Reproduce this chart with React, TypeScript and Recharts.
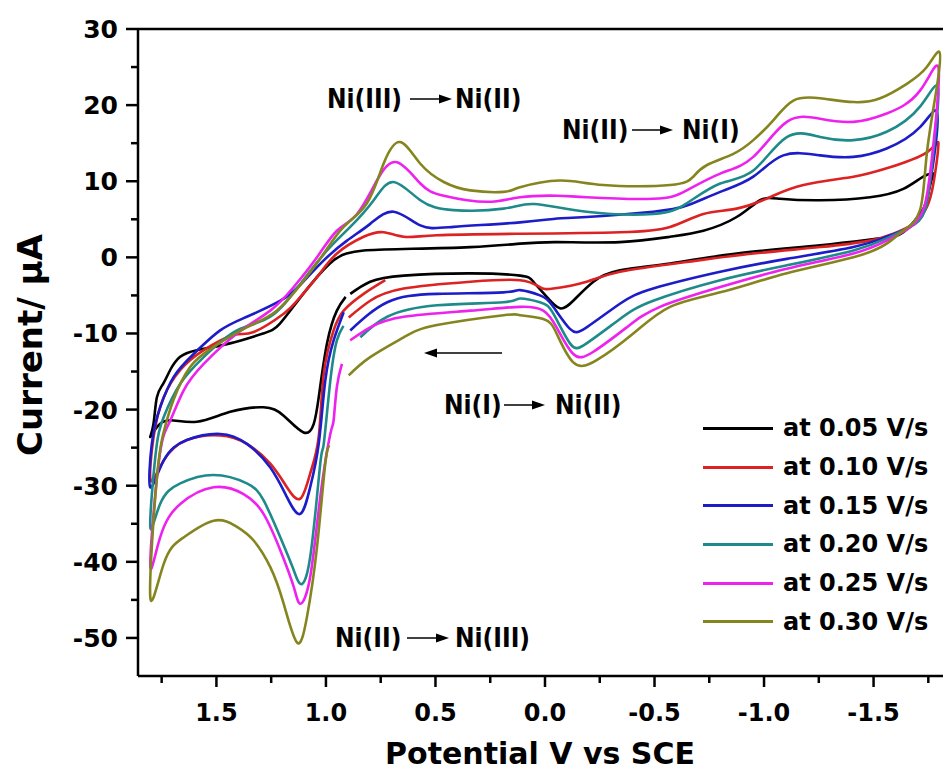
import { LineChart, Line, XAxis, YAxis, ReferenceLine, Legend, Label } from "recharts"

// scan-rate series, [potential V, current µA] in scan order
const scan005 = [
  [0.889, -4.8], [0.798, -3.2], [0.645, -2.4], [0.341, -2.1], [0.113, -2.4], [0.053, -3.2], [-0.008, -5.2],
  [-0.068, -6.7], [-0.129, -5.7], [-0.221, -3.2], [-0.342, -1.7], [-0.571, -0.8], [-0.875, 0.5], [-1.256, 1.6],
  [-1.53, 2.5], [-1.636, 3.3], [-1.712, 5.7], [-1.743, 7.5], [-1.765, 10.2], [-1.775, 11.0],
  [-1.727, 10.6], [-1.636, 9.0], [-1.484, 7.9], [-1.256, 7.5], [-1.073, 7.7], [-0.982, 7.5], [-0.875, 5.3],
  [-0.723, 3.5], [-0.571, 2.7], [-0.342, 2.0], [-0.055, 2.0], [0.114, 1.8], [0.341, 1.35], [0.645, 1.1],
  [0.828, 0.9], [0.906, 0.5], [0.982, -0.8], [1.104, -4.8], [1.21, -8.7], [1.286, -10.0], [1.438, -11.3],
  [1.59, -12.2], [1.667, -13.1], [1.711, -14.8], [1.743, -16.6], [1.772, -18.4], [1.788, -22.0], [1.802, -23.6],
  [1.772, -22.3], [1.711, -21.4], [1.589, -21.6], [1.437, -20.3], [1.285, -19.7], [1.193, -20.8], [1.102, -23.0],
  [1.056, -21.9], [1.033, -18.4], [0.995, -11.3], [0.95, -7.0], [0.91, -5.2],
]

const scan010 = [
  [0.896, -7.9], [0.798, -5.7], [0.645, -4.1], [0.341, -3.2], [0.114, -3.0], [0.023, -3.9], [-0.038, -4.1],
  [-0.19, -3.2], [-0.342, -1.9], [-0.647, -0.6], [-0.951, 0.5], [-1.256, 1.35], [-1.484, 2.2], [-1.59, 3.1],
  [-1.682, 4.4], [-1.743, 6.6], [-1.775, 10.0], [-1.796, 14.9],
  [-1.743, 13.8], [-1.56, 11.7], [-1.408, 10.6], [-1.18, 9.5], [-1.027, 7.9], [-0.875, 6.4], [-0.723, 5.7],
  [-0.571, 4.0], [-0.342, 3.3], [0.114, 3.1], [0.493, 2.9], [0.645, 2.7], [0.737, 3.3], [0.828, 2.7],
  [0.95, 0.5], [1.041, -2.6], [1.132, -5.7], [1.193, -7.4], [1.33, -9.8], [1.421, -10.2], [1.558, -12.2],
  [1.665, -14.8], [1.741, -18.4], [1.787, -23.6], [1.8, -29.3],
  [1.741, -26.7], [1.635, -24.0], [1.483, -23.4], [1.361, -24.5], [1.254, -27.1], [1.178, -30.2],
  [1.117, -31.7], [1.072, -28.4], [1.033, -23.6], [1.01, -15.3], [0.965, -9.6], [0.919, -7.0],
  [0.828, -4.8], [0.729, -3.0],
]

const scan015 = [
  [0.889, -9.6], [0.72, -5.9], [0.493, -4.8], [0.189, -4.6], [0.114, -4.3], [0.023, -5.0], [-0.038, -6.5],
  [-0.114, -9.4], [-0.19, -9.2], [-0.342, -6.1], [-0.494, -4.1], [-0.8, -1.9], [-1.104, -0.2], [-1.408, 1.35],
  [-1.56, 2.7], [-1.667, 4.0], [-1.727, 6.2], [-1.765, 11.0], [-1.791, 18.9],
  [-1.712, 17.1], [-1.56, 14.3], [-1.408, 13.2], [-1.256, 13.4], [-1.088, 13.4], [-0.951, 10.6], [-0.8, 8.6],
  [-0.647, 6.8], [-0.494, 6.0], [-0.19, 5.3], [-0.055, 5.1], [0.114, 4.6], [0.417, 4.0], [0.569, 4.2],
  [0.691, 6.0], [0.798, 4.4], [0.904, 2.2], [1.01, -0.4], [1.117, -3.6], [1.208, -5.7], [1.361, -7.8],
  [1.483, -9.6], [1.604, -12.7], [1.695, -15.7], [1.757, -19.7], [1.795, -24.5], [1.802, -30.2],
  [1.741, -26.7], [1.635, -24.0], [1.483, -23.2], [1.361, -24.5], [1.254, -27.6], [1.178, -31.5],
  [1.117, -33.7], [1.072, -30.2], [1.033, -24.5], [1.003, -16.2], [0.965, -10.9], [0.919, -7.2],
]

const scan020 = [
  [0.843, -10.5], [0.72, -7.8], [0.493, -6.3], [0.189, -5.9], [0.114, -5.4], [0.023, -5.9], [-0.038, -7.4],
  [-0.114, -11.3], [-0.19, -11.3], [-0.342, -8.1], [-0.494, -5.7], [-0.8, -3.0], [-1.104, -1.05], [-1.408, 0.9],
  [-1.56, 2.5], [-1.667, 4.0], [-1.735, 6.2], [-1.77, 13.0], [-1.795, 22.2],
  [-1.712, 19.8], [-1.56, 16.5], [-1.408, 15.4], [-1.256, 15.8], [-1.104, 15.8], [-0.951, 11.4], [-0.8, 9.7],
  [-0.647, 7.1], [-0.494, 5.7], [-0.19, 6.0], [0.05, 7.0], [0.189, 6.4], [0.417, 6.2], [0.569, 7.5],
  [0.691, 9.9], [0.782, 7.5], [0.889, 4.0], [0.995, 0.9], [1.117, -3.5], [1.254, -7.8], [1.406, -9.6],
  [1.558, -13.1], [1.665, -16.6], [1.741, -21.0], [1.779, -26.2], [1.802, -35.4],
  [1.757, -32.4], [1.665, -29.7], [1.513, -28.6], [1.361, -29.7], [1.285, -31.9], [1.208, -36.8],
  [1.147, -41.1], [1.117, -42.9], [1.072, -39.4], [1.026, -27.1], [1.01, -24.5], [0.98, -16.2],
  [0.95, -10.9], [0.92, -9.0],
]

const scan025 = [
  [0.889, -10.9], [0.798, -9.2], [0.645, -7.8], [0.341, -7.0], [0.114, -6.5], [0.008, -7.0], [-0.053, -9.2],
  [-0.129, -12.7], [-0.221, -12.4], [-0.373, -9.2], [-0.525, -6.5], [-0.8, -3.9], [-1.104, -1.5], [-1.408, 0.5],
  [-1.56, 2.2], [-1.66, 3.8], [-1.73, 6.5], [-1.77, 14.0], [-1.797, 24.8],
  [-1.712, 21.9], [-1.56, 18.9], [-1.408, 17.8], [-1.256, 18.2], [-1.104, 17.8], [-0.951, 13.2], [-0.8, 11.0],
  [-0.647, 8.8], [-0.494, 7.7], [-0.19, 7.9], [-0.055, 8.1], [0.114, 7.9], [0.265, 7.3], [0.462, 8.1],
  [0.569, 9.7], [0.676, 12.5], [0.767, 10.1], [0.858, 5.7], [0.95, 3.5], [1.041, 0.0], [1.147, -3.9],
  [1.254, -7.0], [1.406, -10.0], [1.558, -14.0], [1.65, -17.5], [1.718, -21.9], [1.764, -27.1], [1.802, -40.3],
  [1.757, -36.8], [1.665, -32.4], [1.513, -30.2], [1.376, -31.1], [1.285, -33.7], [1.208, -38.5],
  [1.147, -43.3], [1.117, -45.5], [1.072, -42.0], [1.026, -31.5], [0.98, -23.2], [0.965, -21.4],
  [0.95, -17.0], [0.927, -14.0],
]

const scan030 = [
  [0.896, -15.5], [0.798, -13.1], [0.645, -10.5], [0.493, -8.9], [0.189, -7.6], [0.114, -7.6], [0.008, -8.1],
  [-0.053, -10.0], [-0.129, -13.8], [-0.236, -13.5], [-0.403, -10.0], [-0.571, -6.5], [-0.8, -4.6],
  [-1.104, -2.1], [-1.408, 0.0], [-1.56, 1.8], [-1.636, 3.5], [-1.712, 6.2], [-1.743, 13.6], [-1.789, 22.4],
  [-1.8, 27.0],
  [-1.743, 25.0], [-1.652, 22.8], [-1.53, 20.9], [-1.408, 20.4], [-1.256, 20.9], [-1.134, 20.6], [-1.042, 18.0],
  [-0.951, 15.4], [-0.86, 13.6], [-0.738, 12.1], [-0.677, 10.6], [-0.571, 9.5], [-0.266, 9.5], [-0.068, 10.1],
  [0.114, 9.2], [0.189, 8.6], [0.341, 8.8], [0.462, 9.9], [0.569, 12.3], [0.661, 15.15], [0.737, 12.3],
  [0.813, 7.1], [0.919, 4.0], [1.01, 0.5], [1.1, -3.0], [1.225, -7.0], [1.362, -9.2], [1.515, -11.8],
  [1.62, -14.4], [1.697, -18.8], [1.743, -23.2], [1.775, -30.0], [1.802, -44.6],
  [1.741, -40.3], [1.65, -36.8], [1.513, -34.6], [1.406, -35.4], [1.33, -37.2], [1.254, -40.7], [1.193, -45.5],
  [1.132, -50.6], [1.087, -47.3], [1.041, -38.1], [1.003, -27.1], [0.982, -24.9],
]

const scanRates = ["at 0.05 V/s", "at 0.10 V/s", "at 0.15 V/s", "at 0.20 V/s", "at 0.25 V/s", "at 0.30 V/s"]
const scans = [scan005, scan010, scan015, scan020, scan025, scan030]
const colors = ["#000000", "#dc2222", "#1c1cc8", "#1f8a8a", "#ee22ee", "#85851f"]

const potentialTicks = [1.75, 1.5, 1.25, 1.0, 0.75, 0.5, 0.25, 0, -0.25, -0.5, -0.75, -1.0, -1.25, -1.5, -1.75]
const currentTicks = [-50, -45, -40, -35, -30, -25, -20, -15, -10, -5, 0, 5, 10, 15, 20, 25, 30]

const FONT = "'DejaVu Sans', 'Liberation Sans', Arial, sans-serif"
const NOTE_FONT = "'DejaVu Sans Condensed', 'DejaVu Sans', Arial, sans-serif"

function CurrentTick({ x, y, payload }: any) {
  const v = payload.value
  const major = v % 10 === 0
  return (
    <g>
      <line x1={x} x2={x - (major ? 12 : 7)} y1={y} y2={y} stroke="#000" strokeWidth={2.5} />
      {major && (
        <text x={x - 20} y={y} dy="0.36em" textAnchor="end" fontFamily={FONT} fontWeight="bold" fontSize={25} fill="#000">
          {v}
        </text>
      )}
    </g>
  )
}

function PotentialTick({ x, y, payload }: any) {
  const v = payload.value
  const major = Math.abs(v * 2 - Math.round(v * 2)) < 1e-6
  return (
    <g>
      <line x1={x} x2={x} y1={y} y2={y + (major ? 11 : 7)} stroke="#000" strokeWidth={2.5} />
      {major && (
        <text x={x} y={y + 36} dy="0.36em" textAnchor="middle" fontFamily={FONT} fontWeight="bold" fontSize={24} fill="#000">
          {v.toFixed(1)}
        </text>
      )}
    </g>
  )
}

function CurrentTitle() {
  return (
    <text x={30} y={345} transform="rotate(-90 30 345)" textAnchor="middle" dy="0.36em"
      fontFamily={FONT} fontWeight="bold" fontSize={34} fill="#000">
      Current/ μA
    </text>
  )
}

function PotentialTitle() {
  return (
    <text x={540} y={753} textAnchor="middle" dy="0.36em"
      fontFamily={FONT} fontWeight="bold" fontSize={30} fill="#000">
      Potential V vs SCE
    </text>
  )
}

function renderLegend(props: any) {
  const { payload } = props
  return (
    <div>
      {payload.map((entry: any) => (
        <div key={entry.value} style={{ display: "flex", alignItems: "center", height: 38.7 }}>
          <span style={{ width: 70, height: 3, background: entry.color, display: "inline-block" }} />
          <span style={{ marginLeft: 10, fontFamily: FONT, fontWeight: "bold", fontSize: 24, color: "#000" }}>
            {entry.value}
          </span>
        </div>
      ))}
    </div>
  )
}

function Arrow({ x1, x2, y, left = false }: { x1: number; x2: number; y: number; left?: boolean }) {
  const w = x2 - x1
  return (
    <svg width={w} height={12} style={{ position: "absolute", left: x1, top: y - 6 }}>
      {left ? (
        <>
          <line x1={10} x2={w} y1={6} y2={6} stroke="#000" strokeWidth={1.5} />
          <polygon points={`0,6 13,1.5 13,10.5`} fill="#000" />
        </>
      ) : (
        <>
          <line x1={0} x2={w - 10} y1={6} y2={6} stroke="#000" strokeWidth={1.5} />
          <polygon points={`${w},6 ${w - 13},1.5 ${w - 13},10.5`} fill="#000" />
        </>
      )}
    </svg>
  )
}

function Note({ y, x1, t1, a1, a2, x2, t2 }: any) {
  const text = (x: number, t: string) => (
    <div style={{ position: "absolute", left: x, top: y, transform: "translateY(-50%)", lineHeight: 1,
      fontFamily: NOTE_FONT, fontWeight: "bold", fontSize: 26, color: "#000", whiteSpace: "nowrap" }}>
      {t}
    </div>
  )
  return (
    <>
      {text(x1, t1)}
      <Arrow x1={a1} x2={a2} y={y} />
      {text(x2, t2)}
    </>
  )
}

export default function App() {
  return (
    <div style={{ position: "absolute", left: 0, top: 0, width: 943, height: 778, background: "#fff" }}>
      <LineChart width={943} height={778} margin={{ top: 29, right: 0, bottom: 0, left: 0 }}>
        <XAxis
          dataKey="x"
          type="number"
          domain={[-1.817, 1.858]}
          reversed
          allowDataOverflow
          ticks={potentialTicks}
          interval={0}
          height={102}
          tickSize={0}
          tickMargin={0}
          tick={<PotentialTick />}
          axisLine={{ stroke: "#000", strokeWidth: 2.5 }}
          label={<PotentialTitle />}
        />
        <YAxis
          type="number"
          domain={[-55, 30]}
          allowDataOverflow
          ticks={currentTicks}
          interval={0}
          width={138}
          tickSize={0}
          tickMargin={0}
          tick={<CurrentTick />}
          axisLine={{ stroke: "#000", strokeWidth: 2.5 }}
          label={<CurrentTitle />}
        />
        <ReferenceLine y={30} stroke="#000" strokeWidth={2.5} />
        <Legend
          layout="horizontal"
          verticalAlign="middle"
          align="center"
          content={renderLegend}
          wrapperStyle={{ left: 703, top: 409, width: 240 }}
        />
        {scans.map((scan, idx) => (
          <Line
            key={scanRates[idx]}
            name={scanRates[idx]}
            data={scan.map(([x, y]) => ({ x, y }))}
            dataKey="y"
            type="natural"
            stroke={colors[idx]}
            strokeWidth={2.6}
            dot={false}
            activeDot={false}
            isAnimationActive={false}
          />
        ))}
      </LineChart>
      <Note y={99} x1={327} t1="Ni(III)" a1={410} a2={452} x2={455} t2="Ni(II)" />
      <Note y={130} x1={562} t1="Ni(II)" a1={632} a2={673} x2={682} t2="Ni(I)" />
      <Note y={405} x1={444} t1="Ni(I)" a1={504} a2={545} x2={555} t2="Ni(II)" />
      <Note y={638} x1={335} t1="Ni(II)" a1={407} a2={449} x2={455} t2="Ni(III)" />
      <Arrow x1={424} x2={502} y={353} left />
    </div>
  )
}
